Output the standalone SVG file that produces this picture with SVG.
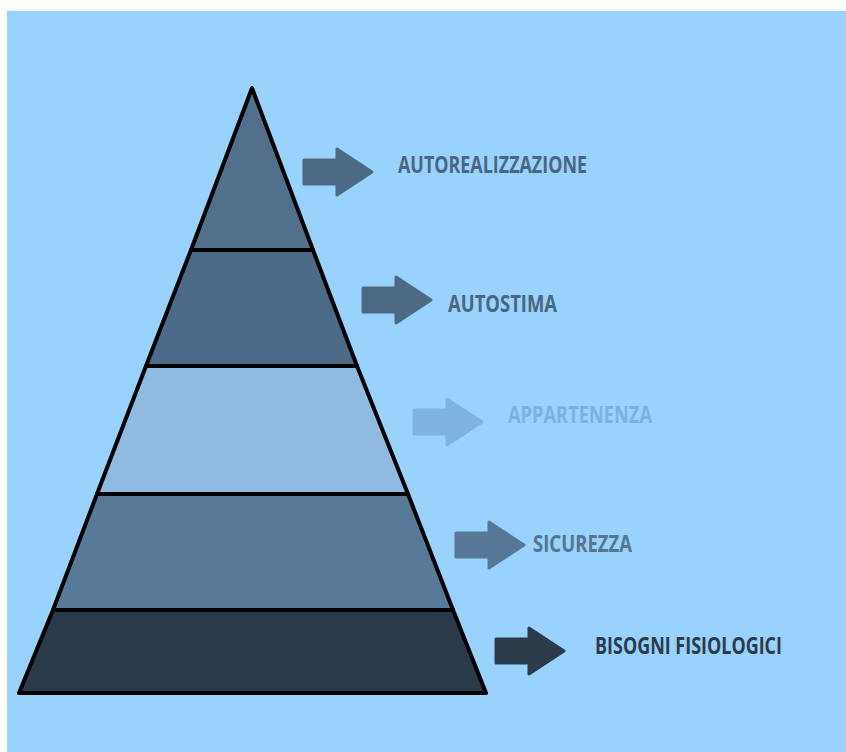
<svg xmlns="http://www.w3.org/2000/svg" width="846" height="752" viewBox="0 0 846 752">
<style>
.lbl{font-family:"Open Sans","Liberation Sans",sans-serif;font-weight:bold;font-size:23.5px}
.edge{stroke:#000;stroke-width:4;stroke-linejoin:round}
.arr{stroke-linejoin:round;stroke-width:3}
</style>
<defs>
<path id="arrow" d="M0,-12 H33 V-23 L68,0 L33,23 V12 H0 Z"/>
</defs>
<rect x="7" y="11" width="839" height="741" fill="#99d2fd"/>
<g id="layer1"><polygon class="edge" points="252,88 313,250 191,250" fill="#52708c"/></g>
<g id="layer2"><polygon class="edge" points="191,250 313,250 357,366 146,366" fill="#4d6b88"/></g>
<g id="layer3"><polygon class="edge" points="146,366 357,366 408,494 97,494" fill="#90badf"/></g>
<g id="layer4"><polygon class="edge" points="97,494 408,494 453,610 53,610" fill="#587a98"/></g>
<g id="layer5"><polygon class="edge" points="53,610 453,610 486,693 19,693" fill="#2b3a4b"/></g>
<g id="connectors">
<use href="#arrow" x="304" y="172" class="arr" fill="#4d6a85" stroke="#4d6a85"/>
<use href="#arrow" x="363" y="300" class="arr" fill="#4d6a85" stroke="#4d6a85"/>
<use href="#arrow" x="414" y="422" class="arr" fill="#80b4e0" stroke="#80b4e0"/>
<use href="#arrow" x="456" y="545" class="arr" fill="#567896" stroke="#567896"/>
<use href="#arrow" x="496" y="651" class="arr" fill="#2c3b4a" stroke="#2c3b4a"/>
</g>
<g id="label1"><text class="lbl" x="398" y="173" textLength="189" lengthAdjust="spacingAndGlyphs" fill="#4a6680">AUTOREALIZZAZIONE</text></g>
<g id="label2"><text class="lbl" x="448" y="312" textLength="109" lengthAdjust="spacingAndGlyphs" fill="#4a6680">AUTOSTIMA</text></g>
<g id="label3"><text class="lbl" x="508" y="423" textLength="144" lengthAdjust="spacingAndGlyphs" fill="#7fb1dd">APPARTENENZA</text></g>
<g id="label4"><text class="lbl" x="533" y="552" textLength="99" lengthAdjust="spacingAndGlyphs" fill="#55768f">SICUREZZA</text></g>
<g id="label5"><text class="lbl" x="595" y="654" textLength="187" lengthAdjust="spacingAndGlyphs" fill="#2c3b4a">BISOGNI FISIOLOGICI</text></g>
</svg>
